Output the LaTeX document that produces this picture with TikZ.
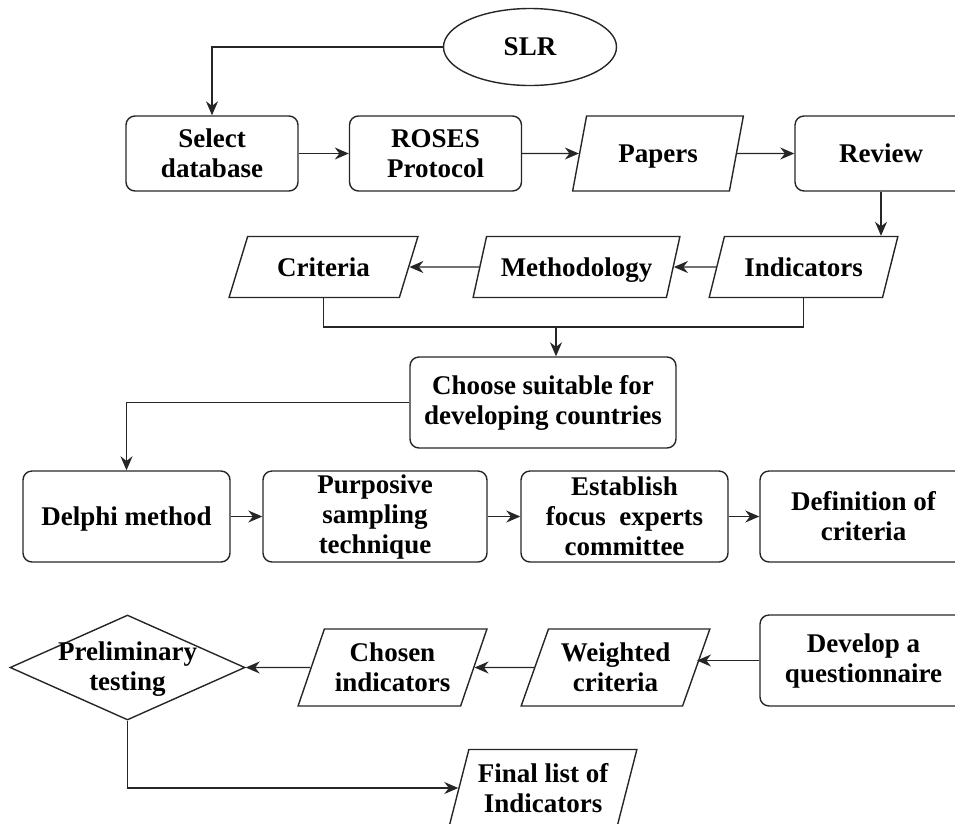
\documentclass[tikz,border=0pt]{standalone}
\usepackage{fontspec}
\setmainfont{Liberation Serif}
\usetikzlibrary{shapes.geometric,arrows.meta}
\tikzset{
  proc/.style={draw, rounded corners=9pt, align=center, inner sep=2pt,
    minimum width=207pt, minimum height=91pt},
  data/.style={draw, trapezium, trapezium left angle=66, trapezium right angle=114,
    trapezium stretches=true, align=center, inner sep=1pt},
  arr/.style={-{Stealth[length=14pt,width=12pt]}}
}
\begin{document}
\begin{tikzpicture}[x=1pt, y=-1pt, line width=1.4pt, draw=black!85,
    font=\bfseries\fontsize{27}{30}\selectfont]
  \useasboundingbox (0,0) rectangle (955,823);
  % first row
  \node[ellipse, draw, minimum width=173pt, minimum height=77pt] (slr) at (530,47) {SLR};
  \node[proc, minimum width=172pt, minimum height=75pt] (sel) at (212,153.5) {Select\\database};
  \node[proc, minimum width=172pt, minimum height=75pt] (ros) at (435.5,153.5) {ROSES\\Protocol};
  \node[data, minimum width=172pt, minimum height=75pt, text depth=0pt,
    trapezium left angle=68, trapezium right angle=112] (pap) at (658,153.5) {Papers};
  \node[proc, minimum width=172pt, minimum height=75pt] (rev) at (881,153.5) {Review};
  % second row
  \node[data, minimum width=189pt, minimum height=61pt,
    trapezium left angle=61, trapezium right angle=119] (ind) at (803.5,267) {Indicators};
  \node[data, minimum width=207pt, minimum height=61pt, text depth=0pt,
    trapezium left angle=61, trapezium right angle=119] (met) at (576.5,267) {Methodology};
  \node[data, minimum width=189pt, minimum height=61pt,
    trapezium left angle=61, trapezium right angle=119] (cri) at (323.5,267) {Criteria};
  \coordinate (jn) at (556,327);
  \node[proc, minimum width=266pt] (cho) at (543,402.5) {Choose suitable for\\developing countries};
  % third row
  \node[proc, text depth=0pt] (del) at (126.5,516.5) {Delphi method};
  \node[proc, minimum width=224pt] (pur) at (375,516.5) {Purposive\\sampling\\technique};
  \node[proc] (est) at (624.5,516.5) {Establish\\focus\ \ experts\\committee};
  \node[proc] (def) at (863.5,516.5) {Definition of\\criteria};
  % fourth row
  \node[proc] (dev) at (863.5,660.5) {Develop a\\questionnaire};
  \node[data, minimum width=189pt, minimum height=77pt] (wei) at (615.5,667.5) {Weighted\\criteria};
  \node[data, minimum width=189pt, minimum height=77pt] (chn) at (392.5,667.5) {Chosen\\indicators};
  \node[diamond, draw, inner sep=0pt, minimum width=235pt, minimum height=105pt,
    label={[align=center, yshift=-2pt]center:Preliminary\\testing}] (pre) at (127.5,667.5) {};
  \node[data, minimum width=188pt, minimum height=77pt,
    trapezium left angle=71, trapezium right angle=109] (fin) at (543,788) {Final list of\\Indicators};
  % connectors
  \draw[arr] (slr.west) -| (sel.north);
  \draw[arr] (sel) -- (ros);
  \draw[arr] (ros) -- (pap);
  \draw[arr] (pap) -- (rev);
  \draw[arr] (rev.south) -- (rev.south |- ind.north);
  \draw[arr] (ind) -- (met);
  \draw[arr] (met) -- (cri);
  \draw (cri.south) |- (jn) -| (ind.south);
  \draw[arr] (jn) -- (jn |- cho.north);
  \draw[arr] (cho.west) -| (del.north);
  \draw[arr] (del) -- (pur);
  \draw[arr] (pur) -- (est);
  \draw[arr] (est) -- (def);
  \draw[arr] (dev.west) -- (dev.west -| wei.east);
  \draw[arr] (wei) -- (chn);
  \draw[arr] (chn) -- (pre);
  \draw[arr] (pre.south) |- (fin.west);
\end{tikzpicture}
\end{document}
